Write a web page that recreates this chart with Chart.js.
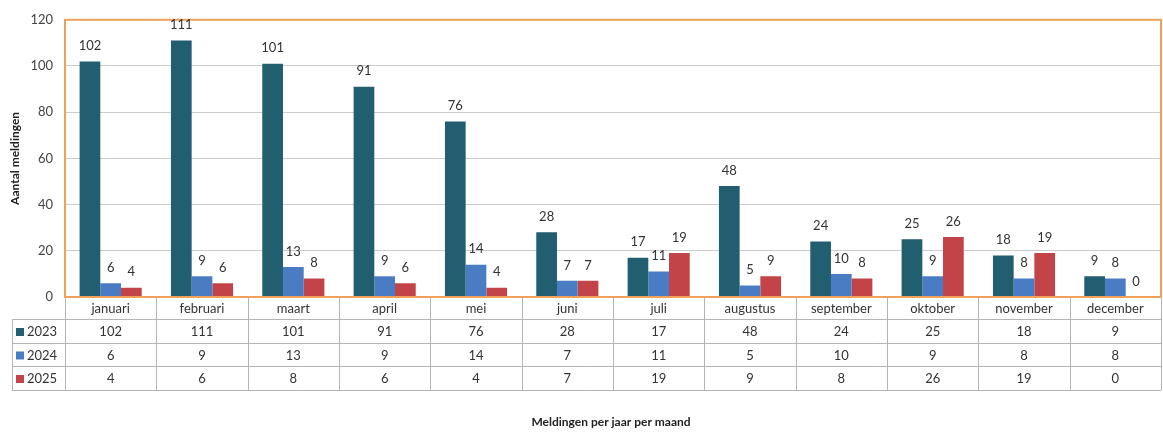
<!DOCTYPE html>
<html>
<head>
<meta charset="utf-8">
<script src="https://cdn.jsdelivr.net/npm/chart.js@4.4.1/dist/chart.umd.min.js"></script>
<style>
  html, body { margin: 0; padding: 0; background: #fff; }
  #wrap { width: 1163px; height: 432px; position: relative; }
</style>
</head>
<body>
<div id="wrap"><canvas id="myChart" width="1163" height="432"></canvas></div>
<script>
const months = ['januari', 'februari', 'maart', 'april', 'mei', 'juni', 'juli', 'augustus', 'september', 'oktober', 'november', 'december'];
const years = ['2023', '2024', '2025'];
const values2023 = [102, 111, 101, 91, 76, 28, 17, 48, 24, 25, 18, 9];
const values2024 = [6, 9, 13, 9, 14, 7, 11, 5, 10, 9, 8, 8];
const values2025 = [4, 6, 8, 6, 4, 7, 19, 9, 8, 26, 19, 0];
const yTicks = [0, 20, 40, 60, 80, 100, 120];
const colors = ['#215f70', '#4a7cc4', '#c34448'];

const FONT = 'Lato, "Open Sans", sans-serif';

// value labels above bars + orange frame
const barLabels = {
    id: 'barLabels',
    afterDatasetsDraw(chart) {
        const ctx = chart.ctx;
        const area = chart.chartArea;
        ctx.save();
        ctx.strokeStyle = '#f0a05a';
        ctx.lineWidth = 2;
        ctx.strokeRect(area.left, area.top, area.right - area.left, area.bottom - area.top);

        ctx.fillStyle = '#333';
        ctx.font = '13px ' + FONT;
        ctx.textAlign = 'center';
        ctx.textBaseline = 'bottom';
        chart.data.datasets.forEach((ds, i) => {
            const meta = chart.getDatasetMeta(i);
            meta.data.forEach((bar, j) => {
                ctx.fillText(ds.data[j], bar.x, bar.y - 9);
            });
        });
        ctx.restore();
    }
};

// data table under the chart
const dataTable = {
    id: 'dataTable',
    afterDraw(chart) {
        const ctx = chart.ctx;
        const area = chart.chartArea;
        const x = chart.scales.x;
        const rowH = [22, 24, 23, 24];
        const legendLeft = 12;
        const step = (area.right - area.left) / months.length;

        let rows = [area.bottom];
        rowH.forEach(h => rows.push(rows[rows.length - 1] + h));

        ctx.save();
        ctx.strokeStyle = '#b4b4b4';
        ctx.lineWidth = 1;

        // horizontal lines
        for (let r = 1; r < rows.length; r++) {
            ctx.beginPath();
            ctx.moveTo(legendLeft, rows[r] + 0.5);
            ctx.lineTo(area.right, rows[r] + 0.5);
            ctx.stroke();
        }
        // vertical lines
        for (let c = 0; c <= months.length; c++) {
            const px = Math.round(area.left + c * step) + 0.5;
            ctx.beginPath();
            ctx.moveTo(px, rows[0]);
            ctx.lineTo(px, rows[rows.length - 1]);
            ctx.stroke();
        }
        ctx.beginPath();
        ctx.moveTo(legendLeft + 0.5, rows[1]);
        ctx.lineTo(legendLeft + 0.5, rows[rows.length - 1]);
        ctx.stroke();

        ctx.fillStyle = '#333';
        ctx.font = '13px ' + FONT;
        ctx.textAlign = 'center';
        ctx.textBaseline = 'middle';
        months.forEach((m, i) => {
            ctx.fillText(m, x.getPixelForValue(i), (rows[0] + rows[1]) / 2 + 1);
        });

        chart.data.datasets.forEach((ds, r) => {
            const cy = (rows[r + 1] + rows[r + 2]) / 2 + 1;
            ds.data.forEach((v, i) => {
                ctx.fillText(v, x.getPixelForValue(i), cy);
            });
            ctx.fillStyle = ds.backgroundColor;
            ctx.fillRect(legendLeft + 4, cy - 4, 8, 8);
            ctx.fillStyle = '#333';
            ctx.textAlign = 'left';
            ctx.fillText(ds.label, legendLeft + 15, cy);
            ctx.textAlign = 'center';
        });

        ctx.font = 'bold 12px ' + FONT;
        ctx.fillStyle = '#222';
        ctx.fillText('Meldingen per jaar per maand', 611, 422);
        ctx.restore();
    }
};

const ctx = document.getElementById('myChart');

new Chart(ctx, {
    type: 'bar',
    data: {
        labels: months,
        datasets: [
            {label: years[0], data: values2023, backgroundColor: colors[0]},
            {label: years[1], data: values2024, backgroundColor: colors[1]},
            {label: years[2], data: values2025, backgroundColor: colors[2]}
        ]
    },
    options: {
        responsive: false,
        animation: false,
        devicePixelRatio: 1,
        layout: {
            padding: {top: 16, right: 2, bottom: 135, left: 8}
        },
        datasets: {
            bar: {
                categoryPercentage: 0.68,
                barPercentage: 1.0
            }
        },
        plugins: {
            legend: {display: false},
            tooltip: {enabled: false}
        },
        scales: {
            x: {
                display: false,
                grid: {display: false}
            },
            y: {
                min: 0,
                max: 120,
                afterBuildTicks: (scale) => {
                    scale.ticks = yTicks.map(v => ({value: v}));
                },
                afterFit: (scale) => {
                    scale.width = 57;
                },
                border: {display: false},
                grid: {
                    color: '#cccccc',
                    drawTicks: false
                },
                ticks: {
                    color: '#444',
                    padding: 12,
                    font: {size: 13, family: FONT}
                },
                title: {
                    display: true,
                    text: 'Aantal meldingen',
                    color: '#222',
                    padding: {top: 0, bottom: 4},
                    font: {size: 12, weight: 'bold', family: FONT}
                }
            }
        }
    },
    plugins: [barLabels, dataTable]
});
</script>
</body>
</html>
